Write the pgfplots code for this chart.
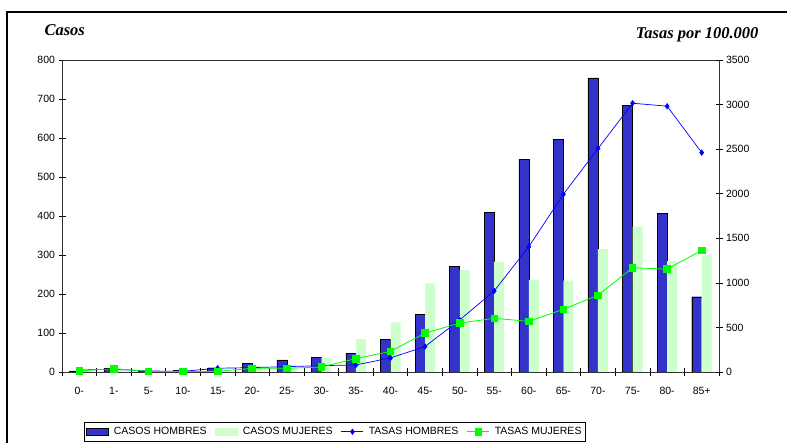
\documentclass[border=0pt]{standalone}
\usepackage{pgfplots}
\pgfplotsset{compat=1.18}
\usepackage{pgfplotstable}
\usepackage{fontspec}
\setmainfont{Liberation Sans}
\newfontfamily\timesfont{Liberation Serif}
\definecolor{hombres}{HTML}{3333CC}
\definecolor{mujeres}{HTML}{CCFFCC}
\definecolor{tasaH}{HTML}{0000FF}
\definecolor{tasaM}{HTML}{00FF00}
\pgfplotsset{linelegend/.style={legend image code/.code={\draw[##1,mark repeat=2,mark phase=2] plot coordinates {(0pt,0pt) (11pt,0pt) (22pt,0pt)};}}}
\pgfplotstableread{
idx casosH casosM tasaH tasaM
0 3 3 22 12
1 9 8 30 37
2 2 2 11 6
3 5 3 8 5
4 11 8 42 7
5 22 15 49 41
6 31 19 60 41
7 38 36 71 56
8 47 84 79 150
9 84 127 158 232
10 147 227 286 436
11 271 262 583 549
12 410 283 910 602
13 546 236 1406 568
14 597 234 1994 703
15 754 315 2506 861
16 684 373 3015 1169
17 407 284 2982 1154
18 193 299 2461 1365
}\datatable
\begin{document}
\begin{tikzpicture}
\useasboundingbox (0,0) rectangle (787pt,443pt);
\draw[line width=2pt] (7pt,-5pt) -- (7pt,431pt) -- (800pt,431pt);
\node[anchor=west,font=\timesfont\bfseries\itshape\fontsize{16.5}{18}\selectfont] at (41pt,413pt) {Casos};
\node[anchor=east,font=\timesfont\bfseries\itshape\fontsize{16.5}{18}\selectfont] at (762pt,408pt) {Tasas por 100.000};
\begin{axis}[
  at={(62pt,71pt)}, anchor=south west,
  scale only axis, width=657pt, height=312pt,
  xmin=-0.5, xmax=18.5, ymin=0, ymax=800,
  ybar=0pt, bar width=10pt,
  axis line style={line width=0.8pt, draw=black!80},
  xtick={0,...,18},
  xticklabels={0-,1-,5-,10-,15-,20-,25-,30-,35-,40-,45-,50-,55-,60-,65-,70-,75-,80-,85+},
  major x tick style={draw=none},
  minor xtick={-0.5,0.5,...,18.5},
  minor tick length=8pt,
  xtick pos=bottom, ytick pos=left,
  ytick={0,100,...,800},
  tick align=center, major tick length=7pt,
  tick style={black, line width=0.6pt},
  ticklabel style={font=\fontsize{10.5}{12}\selectfont},
  xticklabel style={yshift=-8pt},
  /pgf/number format/assume math mode=true,
  /pgf/number format/1000 sep={},
]
\addplot[fill=hombres, draw=black, line width=0.4pt] table[x=idx,y=casosH] {\datatable};
\addplot[fill=mujeres, draw=none] table[x=idx,y=casosM] {\datatable};
\end{axis}
\begin{axis}[
  at={(62pt,71pt)}, anchor=south west,
  scale only axis, width=657pt, height=312pt,
  xmin=-0.5, xmax=18.5, ymin=0, ymax=3500,
  axis x line=none,
  axis y line*=right,
  axis line style={line width=0.8pt, draw=black!80},
  ytick={0,500,...,3500},
  tick align=center, major tick length=7pt,
  tick style={black, line width=0.6pt},
  ticklabel style={font=\fontsize{10.5}{12}\selectfont},
  /pgf/number format/assume math mode=true,
  /pgf/number format/1000 sep={},
  legend columns=4,
  legend style={at={(22pt,-50pt)}, anchor=north west, draw=black, line width=0.6pt,
    font=\fontsize{10.5}{12}\selectfont, inner ysep=3pt, inner xsep=2pt,
    column sep=3pt, /tikz/every even column/.append style={column sep=6.5pt}},
  legend cell align=left,
  linelegend,
]
\addlegendimage{legend image code/.code={\draw[fill=hombres,draw=black,line width=0.6pt] (0pt,-3.5pt) rectangle (22pt,3.5pt);}}
\addlegendentry{CASOS HOMBRES}
\addlegendimage{legend image code/.code={\fill[mujeres] (0pt,-3.5pt) rectangle (22pt,3.5pt);}}
\addlegendentry{CASOS MUJERES}
\addplot[color=tasaH, line width=0.7pt, mark=diamond*, mark size=2.6pt]
  table[x=idx,y=tasaH] {\datatable};
\addlegendentry{TASAS HOMBRES}
\addplot[color=tasaM, line width=0.8pt, mark=square*, mark size=3.3pt]
  table[x=idx,y=tasaM] {\datatable};
\addlegendentry{TASAS MUJERES}
\end{axis}
\end{tikzpicture}
\end{document}
